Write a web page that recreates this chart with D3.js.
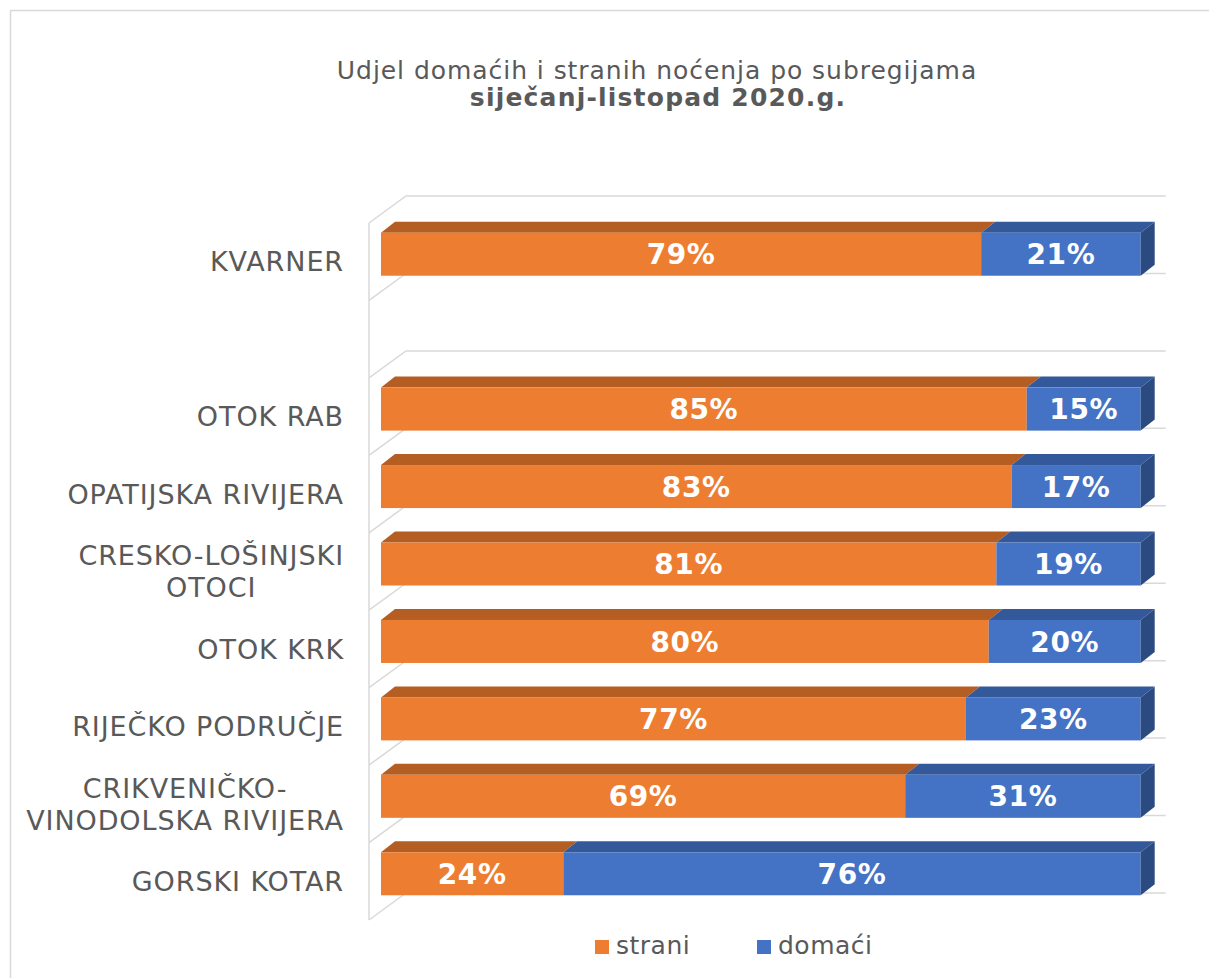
<!DOCTYPE html>
<html lang="hr">
<head>
  <meta charset="UTF-8">
  <title>Udjel domaćih i stranih noćenja po subregijama</title>
  <script src="https://d3js.org/d3.v7.min.js"></script>
  <style>
    body {
      margin: 0;
      padding: 0;
      background: #fff;
    }
    svg text {
      font-family: "DejaVu Sans", "Noto Sans", sans-serif;
    }
  </style>
</head>
<body>
  <div id="chart"></div>

  <script>
    // categories top to bottom ("" is the empty row under KVARNER)
    const categories = ["KVARNER", "", "OTOK RAB", "OPATIJSKA RIVIJERA", "CRESKO-LOŠINJSKI\nOTOCI",
      "OTOK KRK", "RIJEČKO PODRUČJE", "CRIKVENIČKO-\nVINODOLSKA RIVIJERA", "GORSKI KOTAR"];
    const strani = [79, null, 85, 83, 81, 80, 77, 69, 24];
    const domaci = [21, null, 15, 17, 19, 20, 23, 31, 76];
    const seriesNames = ["strani", "domaći"];

    const width = 1209, height = 978;
    const colors = {
      strani: { front: "#ED7D31", top: "#B45E24" },
      domaci: { front: "#4472C4", top: "#34599B", side: "#2B4A80" }
    };

    const svg = d3.select("#chart")
      .append("svg")
      .attr("width", width)
      .attr("height", height);

    // chart area border
    svg.append("rect")
      .attr("x", 10.5).attr("y", 10.5)
      .attr("width", 1260).attr("height", 1000)
      .attr("fill", "#fff")
      .attr("stroke", "#d9d9d9")
      .attr("stroke-width", 1.5);

    // title
    const title = svg.append("text")
      .attr("text-anchor", "middle")
      .attr("fill", "#595959");
    title.append("tspan")
      .attr("x", 657).attr("y", 79)
      .attr("font-size", "25px")
      .attr("letter-spacing", "0.95px")
      .text("Udjel domaćih i stranih noćenja po subregijama");
    title.append("tspan")
      .attr("x", 658).attr("y", 106)
      .attr("font-size", "25px")
      .attr("letter-spacing", "1.2px")
      .attr("font-weight", "bold")
      .text("siječanj-listopad 2020.g.");

    // scales (front plane of the 3D box)
    const x = d3.scaleLinear().domain([0, 100]).range([369, 1128.7]);
    const y = d3.scaleBand().domain(categories).range([223, 920]);
    const step = y.step();

    const wall = { dx: 37, dy: -27 };     // depth of the back wall
    const barOff = { dx: 12, dy: -7.5 };  // bar front face offset
    const barDepth = { dx: 14, dy: -11 }; // bar thickness in depth
    const barH = 43;

    // gridlines: diagonal on the side wall, then horizontal on back wall
    const grid = svg.append("g")
      .attr("fill", "none")
      .attr("stroke", "#d9d9d9")
      .attr("stroke-width", 1.5);
    d3.range(categories.length + 1).forEach(k => {
      const yf = 223 + k * step;
      grid.append("path")
        .attr("d", `M${x(0)},${yf} L${x(0) + wall.dx},${yf + wall.dy} L${x(100) + wall.dx},${yf + wall.dy}`);
    });
    grid.append("line")
      .attr("x1", x(0)).attr("x2", x(0))
      .attr("y1", 223).attr("y2", 920);

    // bars
    const rows = categories.map((c, i) => ({ c, s: strani[i], d: domaci[i] }))
      .filter(r => r.s !== null);

    const bars = svg.append("g");

    function segment(g, v0, v1, col, withSide, cy) {
      const fx0 = x(v0) + barOff.dx, fx1 = x(v1) + barOff.dx;
      const ft = cy - barH / 2, fb = cy + barH / 2;
      g.append("polygon")
        .attr("points", [[fx0, ft], [fx1, ft], [fx1 + barDepth.dx, ft + barDepth.dy], [fx0 + barDepth.dx, ft + barDepth.dy]].join(" "))
        .attr("fill", col.top);
      g.append("rect")
        .attr("x", fx0).attr("y", ft)
        .attr("width", fx1 - fx0).attr("height", barH)
        .attr("fill", col.front);
      if (withSide) {
        g.append("polygon")
          .attr("points", [[fx1, ft], [fx1 + barDepth.dx, ft + barDepth.dy], [fx1 + barDepth.dx, fb + barDepth.dy], [fx1, fb]].join(" "))
          .attr("fill", col.side);
      }
    }

    rows.forEach(r => {
      const cy = y(r.c) + step / 2 + barOff.dy;
      const g = bars.append("g");
      segment(g, 0, r.s, colors.strani, false, cy);
      segment(g, r.s, 100, colors.domaci, true, cy);

      [[0, r.s], [r.s, 100]].forEach(([a, b]) => {
        g.append("text")
          .attr("x", (x(a) + x(b)) / 2 + barOff.dx)
          .attr("y", cy)
          .attr("dy", "0.36em")
          .attr("text-anchor", "middle")
          .attr("fill", "#fff")
          .attr("font-size", "28px")
          .attr("letter-spacing", "0.6px")
          .attr("font-weight", "bold")
          .text((b - a) + "%");
      });
    });

    // category labels (wrapped lines are centred on each other)
    const labels = svg.append("g")
      .attr("fill", "#595959")
      .attr("font-size", "27px")
      .attr("letter-spacing", "0.9px");
    categories.forEach(c => {
      if (!c) return;
      const lines = c.split("\n");
      const cy = y(c) + step / 2;
      const lh = 32;
      const t = labels.append("text").attr("text-anchor", "middle");
      const spans = lines.map((l, i) => t.append("tspan")
        .attr("y", cy + (i - (lines.length - 1) / 2) * lh)
        .attr("dy", "0.36em")
        .text(l));
      const w = d3.max(spans, s => s.node().getComputedTextLength());
      spans.forEach(s => s.attr("x", 344 - w / 2));
    });

    // legend
    const legend = svg.append("g")
      .attr("font-size", "25px")
      .attr("letter-spacing", "0.5px")
      .attr("fill", "#595959");
    const legendX = [595, 757];
    seriesNames.forEach((n, i) => {
      legend.append("rect")
        .attr("x", legendX[i]).attr("y", 940)
        .attr("width", 14).attr("height", 14)
        .attr("fill", i === 0 ? colors.strani.front : colors.domaci.front);
      legend.append("text")
        .attr("x", legendX[i] + 21).attr("y", 954)
        .text(n);
    });
  </script>
</body>
</html>
